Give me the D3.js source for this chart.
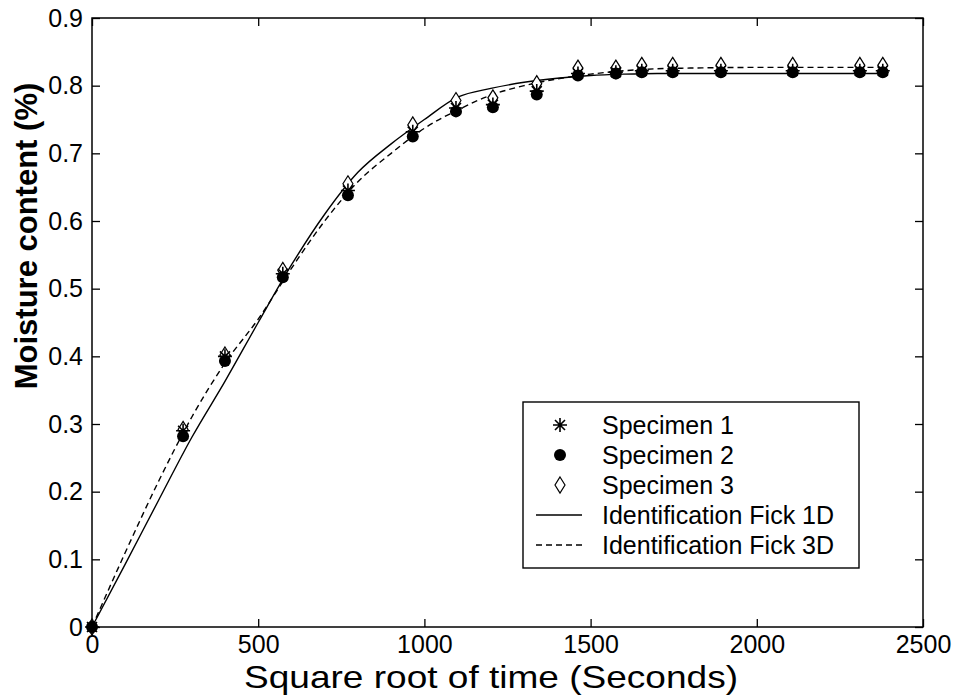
<!DOCTYPE html>
<html>
<head>
<meta charset="utf-8">
<script src="https://cdn.jsdelivr.net/npm/d3@7/dist/d3.min.js"></script>
<style>
  body { margin: 0; background: #fff; }
  text { font-family: "Liberation Sans", Arial, sans-serif; fill: #000; }
</style>
</head>
<body>
<div id="chart"></div>
<script>
// measured data (sqrt of time in seconds, moisture content %)
var times = [0, 274, 400, 574, 770, 965, 1095, 1206, 1338, 1462, 1576, 1654, 1747, 1892, 2108, 2310, 2379];
var specimen1 = [0, 0.290, 0.400, 0.522, 0.645, 0.732, 0.767, 0.772, 0.792, 0.818, 0.820, 0.822, 0.822, 0.822, 0.822, 0.822, 0.822];
var specimen2 = [0, 0.282, 0.393, 0.517, 0.638, 0.725, 0.762, 0.768, 0.787, 0.815, 0.818, 0.820, 0.820, 0.820, 0.820, 0.820, 0.820];
var specimen3 = [0, 0.292, 0.402, 0.527, 0.655, 0.742, 0.778, 0.782, 0.803, 0.826, 0.826, 0.830, 0.830, 0.830, 0.830, 0.830, 0.830];

// identified model curves
var fickX = [0, 100, 200, 300, 400, 500, 600, 700, 800, 900, 1000, 1100, 1200, 1300, 1400, 1500, 1600, 1700, 1800, 2000, 2200, 2380];
var fick1D = [0, 0.093, 0.187, 0.280, 0.363, 0.450, 0.535, 0.610, 0.672, 0.714, 0.750, 0.783, 0.796, 0.805, 0.811, 0.815, 0.817, 0.818, 0.818, 0.818, 0.818, 0.818];
var fick3D = [0, 0.110, 0.215, 0.310, 0.390, 0.455, 0.530, 0.600, 0.658, 0.700, 0.737, 0.764, 0.786, 0.800, 0.810, 0.817, 0.822, 0.825, 0.826, 0.827, 0.827, 0.827];

var xTicks = [0, 500, 1000, 1500, 2000, 2500];
var yTicks = [0, 0.1, 0.2, 0.3, 0.4, 0.5, 0.6, 0.7, 0.8, 0.9];
var legendLabels = ["Specimen 1", "Specimen 2", "Specimen 3", "Identification Fick 1D", "Identification Fick 3D"];

var margin = { top: 18, right: 33, bottom: 70, left: 92 },
    width = 956 - margin.left - margin.right,
    height = 697 - margin.top - margin.bottom;

var svg = d3.select("#chart")
    .append("svg")
    .attr("width", 956)
    .attr("height", 697)
    .append("g")
    .attr("transform", "translate(" + margin.left + "," + margin.top + ")");

var x = d3.scaleLinear().domain([0, 2500]).range([0, width]);
var y = d3.scaleLinear().domain([0, 0.9]).range([height, 0]);

// axes with inward ticks, box style
function styleAxis(g) {
    g.selectAll(".domain").remove();
    g.selectAll("line").attr("stroke", "#000").attr("stroke-width", 1.3);
    g.selectAll("text").style("font-size", "25px");
}
svg.append("g")
    .attr("transform", "translate(0," + height + ")")
    .call(d3.axisBottom(x).tickValues(xTicks).tickFormat(d3.format("d")).tickSizeInner(-8).tickSizeOuter(0).tickPadding(8))
    .call(styleAxis)
    .selectAll("text").attr("dy", "0.72em");
svg.append("g")
    .call(d3.axisTop(x).tickValues(xTicks).tickFormat("").tickSizeInner(-8).tickSizeOuter(0))
    .call(styleAxis);
svg.append("g")
    .call(d3.axisLeft(y).tickValues(yTicks).tickFormat(function (d) { return d === 0 ? "0" : d3.format(".1f")(d); }).tickSizeInner(-8).tickSizeOuter(0).tickPadding(9))
    .call(styleAxis);
svg.append("g")
    .attr("transform", "translate(" + width + ",0)")
    .call(d3.axisRight(y).tickValues(yTicks).tickFormat("").tickSizeInner(-8).tickSizeOuter(0))
    .call(styleAxis);

svg.append("rect")
    .attr("width", width)
    .attr("height", height)
    .attr("fill", "none")
    .attr("stroke", "#000")
    .attr("stroke-width", 1.5);

// axis labels
svg.append("text")
    .attr("x", 399)
    .attr("y", height + 61)
    .style("text-anchor", "middle")
    .style("font-size", "32px")
    .attr("textLength", 494)
    .attr("lengthAdjust", "spacingAndGlyphs")
    .text("Square root of time (Seconds)");
svg.append("text")
    .attr("transform", "rotate(-90)")
    .attr("x", -218)
    .attr("y", -55)
    .style("text-anchor", "middle")
    .style("font-size", "31px")
    .style("font-weight", "bold")
    .text("Moisture content (%)");

// model curves
var line = d3.line()
    .x(function (d) { return x(d[0]); })
    .y(function (d) { return y(d[1]); })
    .curve(d3.curveMonotoneX);

svg.append("path")
    .datum(d3.zip(fickX, fick1D))
    .attr("d", line)
    .attr("fill", "none")
    .attr("stroke", "#000")
    .attr("stroke-width", 1.4);
svg.append("path")
    .datum(d3.zip(fickX, fick3D))
    .attr("d", line)
    .attr("fill", "none")
    .attr("stroke", "#000")
    .attr("stroke-width", 1.4)
    .attr("stroke-dasharray", "6,4");

// markers
function drawStar(g) {
    g.append("path")
        .attr("d", "M0,-7V7M-7,0H7M-5,-5L5,5M-5,5L5,-5")
        .attr("stroke", "#000")
        .attr("stroke-width", 1.6)
        .attr("fill", "none");
}
function drawDot(g) {
    g.append("circle").attr("r", 6).attr("fill", "#000");
}
function drawDiamond(g) {
    g.append("path")
        .attr("d", "M0,-8L5,0L0,8L-5,0Z")
        .attr("stroke", "#000")
        .attr("stroke-width", 1.2)
        .attr("fill", "#fff");
}

var series = [
    { values: specimen3, draw: drawDiamond },
    { values: specimen1, draw: drawStar },
    { values: specimen2, draw: drawDot }
];
series.forEach(function (s) {
    svg.append("g")
        .selectAll("g")
        .data(d3.zip(times, s.values))
        .enter()
        .append("g")
        .attr("transform", function (d) { return "translate(" + x(d[0]) + "," + y(d[1]) + ")"; })
        .each(function () { s.draw(d3.select(this)); });
});

// legend
var legend = svg.append("g")
    .attr("transform", "translate(" + (523 - margin.left) + "," + (402 - margin.top) + ")");
legend.append("rect")
    .attr("width", 336)
    .attr("height", 166)
    .attr("fill", "#fff")
    .attr("stroke", "#000")
    .attr("stroke-width", 1.4);

var drawers = [drawStar, drawDot, drawDiamond];
legendLabels.forEach(function (label, i) {
    var row = legend.append("g").attr("transform", "translate(0," + (23 + i * 30) + ")");
    if (i < 3) {
        var m = row.append("g").attr("transform", "translate(37,0)");
        drawers[i](m);
    } else {
        row.append("line")
            .attr("x1", 13).attr("x2", 59)
            .attr("stroke", "#000")
            .attr("stroke-width", 1.4)
            .attr("stroke-dasharray", i === 4 ? "6,4" : null);
    }
    row.append("text")
        .attr("x", 79)
        .attr("dy", "0.36em")
        .style("font-size", "25px")
        .text(label);
});
</script>
</body>
</html>
